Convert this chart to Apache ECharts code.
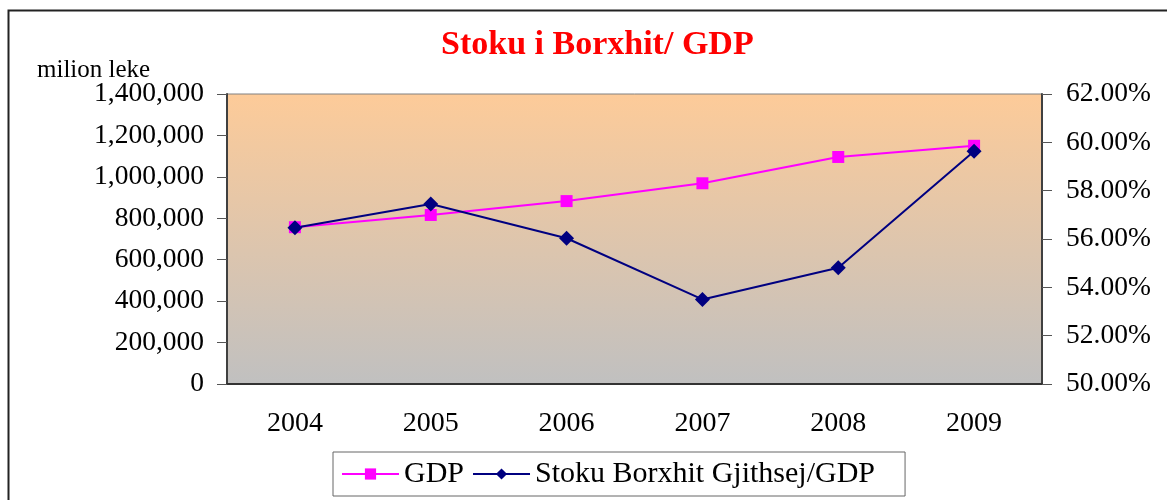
<!DOCTYPE html>
<html>
<head>
<meta charset="utf-8">
<script src="https://cdn.jsdelivr.net/npm/echarts@6/dist/echarts.min.js"></script>
<style>
  html, body { margin: 0; padding: 0; background: #fff; }
  #main { width: 1167px; height: 500px; }
</style>
</head>
<body>
<div id="main"></div>
<script>
const years = ['2004', '2005', '2006', '2007', '2008', '2009']
// GDP, milion leke
const gdp = [757000, 816000, 883000, 969000, 1096000, 1150000]
// Stoku Borxhit Gjithsej / GDP, ne %
const debtRatio = [56.47, 57.45, 56.03, 53.50, 54.81, 59.63]

const serif = '"Liberation Serif", "Times New Roman", serif'

let chart = echarts.init(document.getElementById('main'))

let option = {
  animation: false,
  backgroundColor: '#fff',
  title: {
    text: 'Stoku i Borxhit/ GDP',
    left: 436,
    top: 23,
    textStyle: {
      color: '#ff0000',
      fontFamily: serif,
      fontWeight: 'bold',
      fontSize: 34
    }
  },
  graphic: [
    {
      type: 'rect',
      shape: { x: 8.5, y: 10.5, width: 1200, height: 520 },
      style: { fill: 'none', stroke: '#222', lineWidth: 2 },
      z: -1
    },
    {
      type: 'text',
      left: 37,
      top: 58,
      style: {
        text: 'milion leke',
        fill: '#000',
        font: '25px ' + serif
      }
    }
  ],
  legend: {
    left: 333,
    top: 452,
    itemWidth: 57,
    itemHeight: 14,
    itemGap: 8,
    padding: [7, 30, 7, 8],
    borderColor: '#666',
    borderWidth: 1,
    backgroundColor: '#fff',
    textStyle: {
      fontFamily: serif,
      fontSize: 30,
      color: '#000'
    },
    data: ['GDP', 'Stoku Borxhit Gjithsej/GDP']
  },
  grid: {
    left: 227,
    right: 125,
    top: 94,
    bottom: 116,
    show: true,
    borderColor: '#808080',
    borderWidth: 1,
    backgroundColor: new echarts.graphic.LinearGradient(0, 0, 0, 1, [
      { offset: 0, color: '#fdcb99' },
      { offset: 1, color: '#c0c0c0' }
    ])
  },
  xAxis: {
    type: 'category',
    data: years,
    boundaryGap: true,
    axisLine: { lineStyle: { color: '#333', width: 2 } },
    axisTick: { length: 9, lineStyle: { color: '#333' } },
    axisLabel: {
      margin: 26,
      fontFamily: serif,
      fontSize: 28,
      color: '#000'
    },
    splitLine: { show: false }
  },
  yAxis: [
    {
      type: 'value',
      min: 0,
      max: 1400000,
      interval: 200000,
      position: 'left',
      axisLine: { show: true, lineStyle: { color: '#404040', width: 2 } },
      axisTick: { show: true, length: 10, lineStyle: { color: '#555' } },
      axisLabel: {
        margin: 23,
        fontFamily: serif,
        fontSize: 27.5,
        color: '#000',
        formatter: (v) => v.toLocaleString('en-US')
      },
      splitLine: { show: false }
    },
    {
      type: 'value',
      min: 50,
      max: 62,
      interval: 2,
      position: 'right',
      axisLine: { show: true, lineStyle: { color: '#404040', width: 2 } },
      axisTick: { show: true, length: 10, lineStyle: { color: '#555' } },
      axisLabel: {
        margin: 24,
        fontFamily: serif,
        fontSize: 27.5,
        color: '#000',
        formatter: (v) => v.toFixed(2) + '%'
      },
      splitLine: { show: false }
    }
  ],
  series: [
    {
      name: 'GDP',
      type: 'line',
      yAxisIndex: 0,
      data: gdp,
      symbol: 'rect',
      symbolSize: 12,
      lineStyle: { color: '#ff00ff', width: 2 },
      itemStyle: { color: '#ff00ff' }
    },
    {
      name: 'Stoku Borxhit Gjithsej/GDP',
      type: 'line',
      yAxisIndex: 1,
      data: debtRatio,
      symbol: 'diamond',
      symbolSize: 15,
      lineStyle: { color: '#000080', width: 2 },
      itemStyle: { color: '#000080' }
    }
  ]
}

chart.setOption(option)
</script>
</body>
</html>
